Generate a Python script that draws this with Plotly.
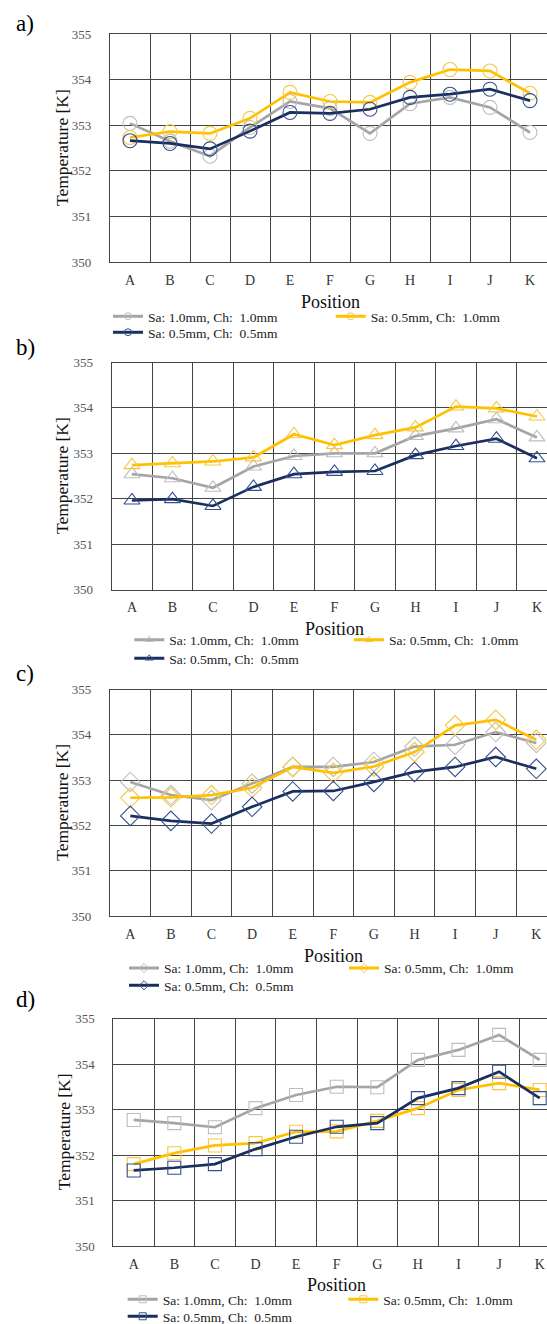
import plotly.graph_objects as go

W, H = 547, 1324

positions = ["A", "B", "C", "D", "E", "F", "G", "H", "I", "J", "K"]
series_names = ["Sa: 1.0mm, Ch:\u00a0 1.0mm", "Sa: 0.5mm, Ch:\u00a0 1.0mm", "Sa: 0.5mm, Ch:\u00a0 0.5mm"]
panel_labels = ["a)", "b)", "c)", "d)"]
y_ticks = [350, 351, 352, 353, 354, 355]

# panel a) circles
a_sa10_ch10 = [353.04, 352.65, 352.32, 352.95, 353.52, 353.37, 352.82, 353.47, 353.61, 353.39, 352.84]
a_sa05_ch10 = [352.73, 352.86, 352.82, 353.15, 353.72, 353.52, 353.50, 353.94, 354.22, 354.19, 353.70]
a_sa05_ch05 = [352.66, 352.60, 352.48, 352.87, 353.28, 353.26, 353.35, 353.61, 353.68, 353.79, 353.54]
# panel b) triangles
b_sa10_ch10 = [352.54, 352.45, 352.24, 352.71, 352.94, 353.00, 353.00, 353.38, 353.55, 353.75, 353.35]
b_sa05_ch10 = [352.74, 352.78, 352.82, 352.91, 353.42, 353.18, 353.40, 353.57, 354.03, 353.99, 353.81]
b_sa05_ch05 = [351.96, 351.99, 351.84, 352.26, 352.54, 352.59, 352.61, 352.96, 353.16, 353.32, 352.89]
# panel c) diamonds
c_sa10_ch10 = [352.96, 352.67, 352.56, 352.92, 353.29, 353.29, 353.40, 353.74, 353.78, 354.06, 353.82]
c_sa05_ch10 = [352.61, 352.62, 352.67, 352.83, 353.29, 353.16, 353.30, 353.62, 354.21, 354.33, 353.89]
c_sa05_ch05 = [352.21, 352.10, 352.04, 352.41, 352.75, 352.76, 352.96, 353.18, 353.29, 353.51, 353.25]
# panel d) squares
d_sa10_ch10 = [352.77, 352.70, 352.61, 353.03, 353.32, 353.50, 353.49, 354.09, 354.31, 354.64, 354.09]
d_sa05_ch10 = [351.80, 352.04, 352.21, 352.26, 352.51, 352.52, 352.75, 353.03, 353.43, 353.58, 353.43]
d_sa05_ch05 = [351.66, 351.72, 351.80, 352.13, 352.40, 352.62, 352.70, 353.25, 353.47, 353.83, 353.25]

panel_data = [
    [a_sa10_ch10, a_sa05_ch10, a_sa05_ch05],
    [b_sa10_ch10, b_sa05_ch10, b_sa05_ch05],
    [c_sa10_ch10, c_sa05_ch10, c_sa05_ch05],
    [d_sa10_ch10, d_sa05_ch10, d_sa05_ch05],
]

# styling
SERIF = "Liberation Serif"
line_colors = ["#A5A5A5", "#FFC000", "#1B2F5E"]
marker_colors = ["#BDBDBD", "#F5C842", "#34508F"]
symbols = ["circle-open", "triangle-up-open", "diamond-open", "square-open"]
marker_sizes = [14, 14, 15, 13]
grid_color = "#444444"

# pixel geometry of each panel: plot left, category pitch, plot top, plot bottom
geom = [
    dict(left=110.0, pitch=40.0, top=34.0, bottom=262.0),
    dict(left=111.7, pitch=40.5, top=362.5, bottom=589.5),
    dict(left=110.0, pitch=40.6, top=689.5, bottom=916.0),
    dict(left=113.4, pitch=40.6, top=1018.5, bottom=1246.0),
]
# legend rows (y centre), text start of first and second column
legend_geom = [
    dict(r1=316.5, r2=332.5, c1=148.0, c2=370.7),
    dict(r1=640.0, r2=658.5, c1=169.3, c2=389.0),
    dict(r1=968.3, r2=985.5, c1=164.0, c2=384.0),
    dict(r1=1299.5, r2=1316.5, c1=162.7, c2=383.3),
]
title_y = [301.7, 629.3, 955.7, 1285.0]
ytitle_x = [62.0, 62.0, 62.0, 64.0]
letter_y = [23.0, 347.0, 673.0, 999.0]


def px(x):
    return x / W


def py(y):
    return 1 - y / H


fig = go.Figure()
annotations = []
layout = {}

for p in range(4):
    g = geom[p]
    lg = legend_geom[p]
    sfx = "" if p == 0 else str(p + 1)
    xa, ya = "x" + sfx, "y" + sfx
    leg1 = "legend" if p == 0 else f"legend{2 * p + 1}"
    leg2 = f"legend{2 * p + 2}"

    for s in range(3):
        fig.add_trace(go.Scatter(
            x=positions, y=panel_data[p][s], xaxis=xa, yaxis=ya,
            mode="lines+markers", showlegend=False, cliponaxis=False,
            line=dict(color=line_colors[s], width=2.7),
            marker=dict(symbol=symbols[p], size=marker_sizes[p],
                        color=marker_colors[s], line=dict(color=marker_colors[s], width=1.1)),
            name=series_names[s],
        ))
    # legend entries with small markers
    for s in range(3):
        fig.add_trace(go.Scatter(
            x=[None], y=[None], xaxis=xa, yaxis=ya,
            mode="lines+markers", name=series_names[s],
            legend=leg1 if s < 2 else leg2,
            line=dict(color=line_colors[s], width=3),
            marker=dict(symbol=symbols[p], size=7,
                        color=marker_colors[s], line=dict(color=marker_colors[s], width=1)),
        ))

    right_val = -0.5 + (W - g["left"]) / g["pitch"]
    layout["xaxis" + sfx] = dict(
        domain=[px(g["left"]), 1.0], anchor=ya, type="category",
        categoryorder="array", categoryarray=positions,
        range=[-0.5, right_val], tickson="boundaries", automargin=False,
        showgrid=True, gridcolor=grid_color, gridwidth=1.1,
        showline=True, linecolor=grid_color, linewidth=1.1, mirror=True,
        ticks="", ticklabelstandoff=5,
        tickfont=dict(family=SERIF, size=14, color="#333333"),
        zeroline=False, fixedrange=True,
    )
    layout["yaxis" + sfx] = dict(
        domain=[py(g["bottom"]), py(g["top"])], anchor=xa, automargin=False,
        range=[350, 355], tickvals=y_ticks, ticktext=[str(v) for v in y_ticks],
        showgrid=True, gridcolor=grid_color, gridwidth=1.1,
        showline=True, linecolor=grid_color, linewidth=1.1,
        ticks="", ticklabelstandoff=15,
        tickfont=dict(family=SERIF, size=13, color="#555555"),
        zeroline=False, fixedrange=True,
    )

    leg_common = dict(
        orientation="h", xanchor="left", yanchor="middle",
        font=dict(family=SERIF, size=13.5, color="#222222"),
        bgcolor="rgba(0,0,0,0)", borderwidth=0, itemclick=False, itemdoubleclick=False,
        tracegroupgap=0,
    )
    layout[leg1] = dict(leg_common, x=px(lg["c1"] - 40), y=py(lg["r1"]),
                        entrywidth=lg["c2"] - lg["c1"] - 45, entrywidthmode="pixels")
    layout[leg2] = dict(leg_common, x=px(lg["c1"] - 40), y=py(lg["r2"]))

    centre_x = g["left"] + 5.5 * g["pitch"]
    annotations.append(dict(
        text="Position", x=px(centre_x), y=py(title_y[p]), xref="paper", yref="paper",
        xanchor="center", yanchor="middle", showarrow=False,
        font=dict(family=SERIF, size=18, color="#111111"),
    ))
    annotations.append(dict(
        text="Temperature [K]", x=px(ytitle_x[p]), y=py((g["top"] + g["bottom"]) / 2),
        xref="paper", yref="paper", xanchor="center", yanchor="middle",
        textangle=-90, showarrow=False,
        font=dict(family=SERIF, size=17.5, color="#111111"),
    ))
    annotations.append(dict(
        text=panel_labels[p], x=px(25), y=py(letter_y[p]), xref="paper", yref="paper",
        xanchor="center", yanchor="middle", showarrow=False,
        font=dict(family=SERIF, size=23, color="#000000"),
    ))

fig.update_layout(
    width=W, height=H,
    margin=dict(l=0, r=0, t=0, b=0, autoexpand=False),
    paper_bgcolor="white", plot_bgcolor="white",
    annotations=annotations,
    **layout,
)

fig.write_html("out.html", config={"displayModeBar": False})
